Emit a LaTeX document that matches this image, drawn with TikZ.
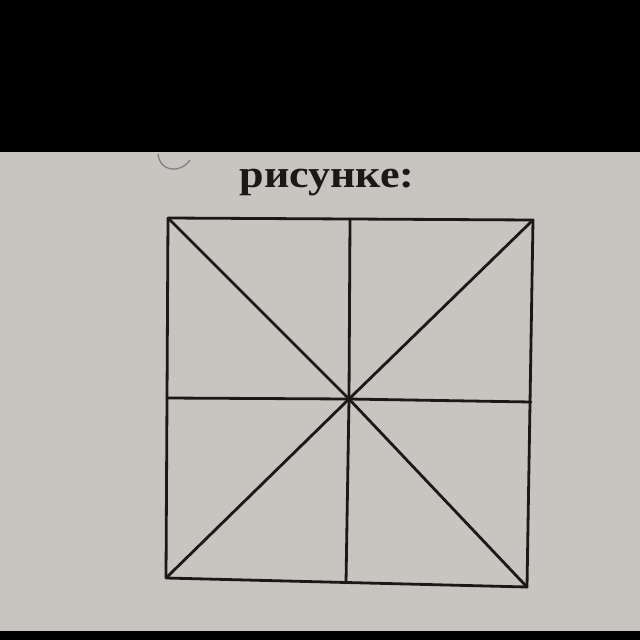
\documentclass[tikz,border=0pt]{standalone}
\usepackage{fontspec}
\setmainfont{Liberation Serif}
\usepackage{tikz}
\usetikzlibrary{calc}
\definecolor{pagegray}{RGB}{200,197,193}
\definecolor{ink}{RGB}{28,24,24}
\tikzset{edge/.style={ink, line width=2.8pt, line cap=round, line join=round}}
\begin{document}
\begin{tikzpicture}[x=1pt,y=-1pt]
\fill [black] (0,0) rectangle (640,640);
\fill [pagegray] (0,152) rectangle (640,631);
\useasboundingbox (0,0) rectangle (640,640);
\draw [gray!60!black, line width=1.2pt, opacity=0.6] (158,154) .. controls (160,172) and (180,174) .. (190,160);
\node [ink, font=\bfseries\fontsize{39}{42}\selectfont, anchor=base, xscale=1.13] (title) at (327,187) {рисунке:};
\coordinate (tl) at (168,218);
\coordinate (tr) at (533,220);
\coordinate (br) at (527,587);
\coordinate (bl) at (166,578);
\coordinate (tm) at (350,219);
\coordinate (bm) at (346,583);
\coordinate (lm) at (167,398);
\coordinate (rm) at (531,402);
\coordinate (c) at (349,399);
\draw [edge] (tl) -- (tr) -- (br) -- (bl) -- cycle;
\draw [edge] (tl) -- (c) -- (br);
\draw [edge] (tr) -- (c) -- (bl);
\draw [edge] (tm) -- (c) -- (bm);
\draw [edge] (lm) -- (c) -- (rm);
\fill [ink] (c) circle (3pt);
\end{tikzpicture}
\end{document}
